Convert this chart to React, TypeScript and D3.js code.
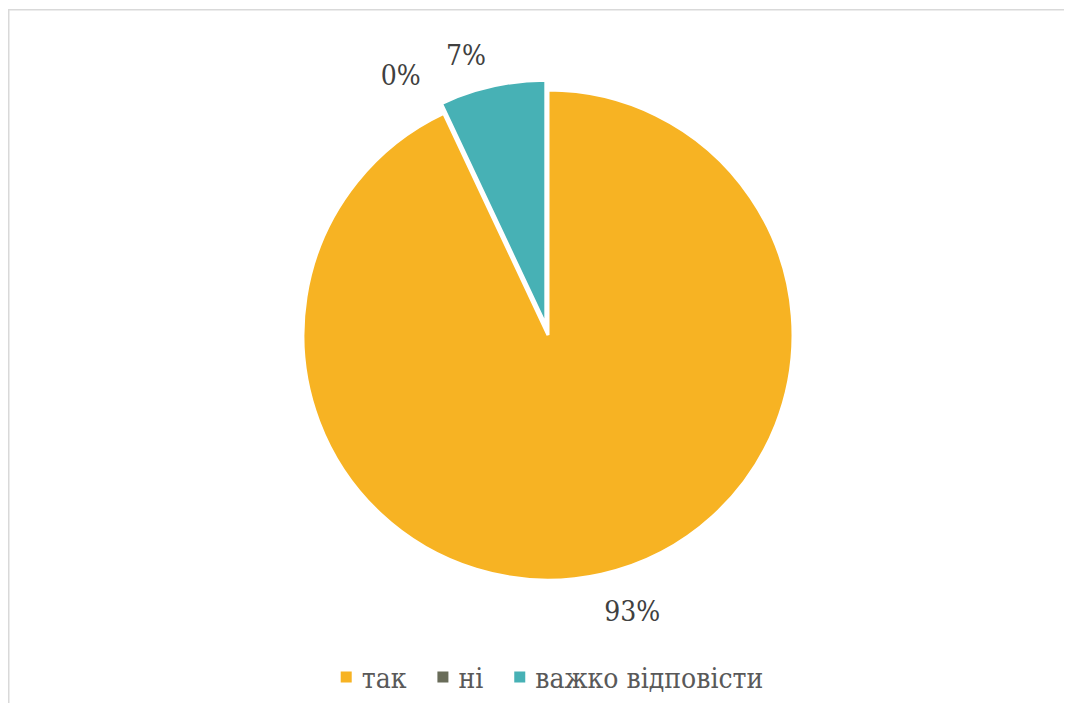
import React, { useLayoutEffect, useRef, useState } from "react";
import * as d3 from "d3";

const categories = ["так", "ні", "важко відповісти"];
const values = [93, 0, 7];
const valueLabels = ["93%", "0%", "7%"];
const colors = ["#F7B323", "#696C59", "#47B1B5"];

const W = 1056;
const H = 695;
const CX = 540;
const CY = 327;
const R = 245;
const EXPLODE = 10;
const LABEL_R = 285;
const FONT = "'DejaVu Serif Condensed', 'DejaVu Serif', serif";
const FS = 28;
const LABEL_SHIFT = [-6, -6, 0];

export default function App() {
  const pie = d3.pie<number>().sort(null).value((d) => d).startAngle(0).endAngle(2 * Math.PI);
  const arcs = pie(values);
  const arc = d3.arc<d3.PieArcDatum<number>>().innerRadius(0).outerRadius(R);

  const textRefs = useRef<(SVGTextElement | null)[]>([]);
  const [widths, setWidths] = useState<number[]>([43, 25, 230]);
  useLayoutEffect(() => {
    const w = textRefs.current.map((t) => (t ? t.getComputedTextLength() : 0));
    if (w.some((v, i) => Math.abs(v - widths[i]) > 0.5)) setWidths(w);
  }, []);

  const mk = 11;
  const mkGap = 10;
  const itemGap = 31;
  const total = widths.reduce((a, b) => a + b, 0) + categories.length * (mk + mkGap) + (categories.length - 1) * itemGap;
  let lx = 544 - total / 2;
  const legendItems = categories.map((c, i) => {
    const x = lx;
    lx += mk + mkGap + widths[i] + itemGap;
    return { c, x, i };
  });
  const legendY = 680;

  return (
    <svg width={W} height={H} style={{ display: "block", fontFamily: FONT }}>
      <line x1={0} x2={W} y1={1.75} y2={1.75} stroke="#D9D9D9" strokeWidth={1.5} />
      <line x1={0.75} x2={0.75} y1={1} y2={H} stroke="#D9D9D9" strokeWidth={1.5} />
      <g transform={`translate(${CX},${CY})`}>
        {arcs.map((a, i) => {
          if (a.endAngle - a.startAngle <= 0) return null;
          const mid = (a.startAngle + a.endAngle) / 2;
          const ex = i === 2 ? EXPLODE : 0;
          const dx = Math.sin(mid) * ex;
          const dy = -Math.cos(mid) * ex;
          return (
            <path
              key={i}
              d={arc(a) || ""}
              transform={`translate(${dx},${dy})`}
              fill={colors[i]}
              stroke="#fff"
              strokeWidth={3}
              strokeLinejoin="miter"
            />
          );
        })}
        {arcs.map((a, i) => {
          const mid = (a.startAngle + a.endAngle) / 2;
          const px = Math.sin(mid) * LABEL_R;
          const py = -Math.cos(mid) * LABEL_R;
          const anchor = Math.sin(mid) >= 0 ? "start" : "end";
          return (
            <text key={i} x={px + LABEL_SHIFT[i]} y={py + 8} textAnchor={anchor} fontSize={FS} fill="#404040">
              {valueLabels[i]}
            </text>
          );
        })}
      </g>
      {legendItems.map(({ c, x, i }) => (
        <g key={c}>
          <rect x={x} y={legendY - 16.5} width={mk} height={mk} fill={colors[i]} />
          <text
            ref={(el) => {
              textRefs.current[i] = el;
            }}
            x={x + mk + mkGap}
            y={legendY}
            fontSize={FS}
            fill="#595959"
          >
            {c}
          </text>
        </g>
      ))}
    </svg>
  );
}
